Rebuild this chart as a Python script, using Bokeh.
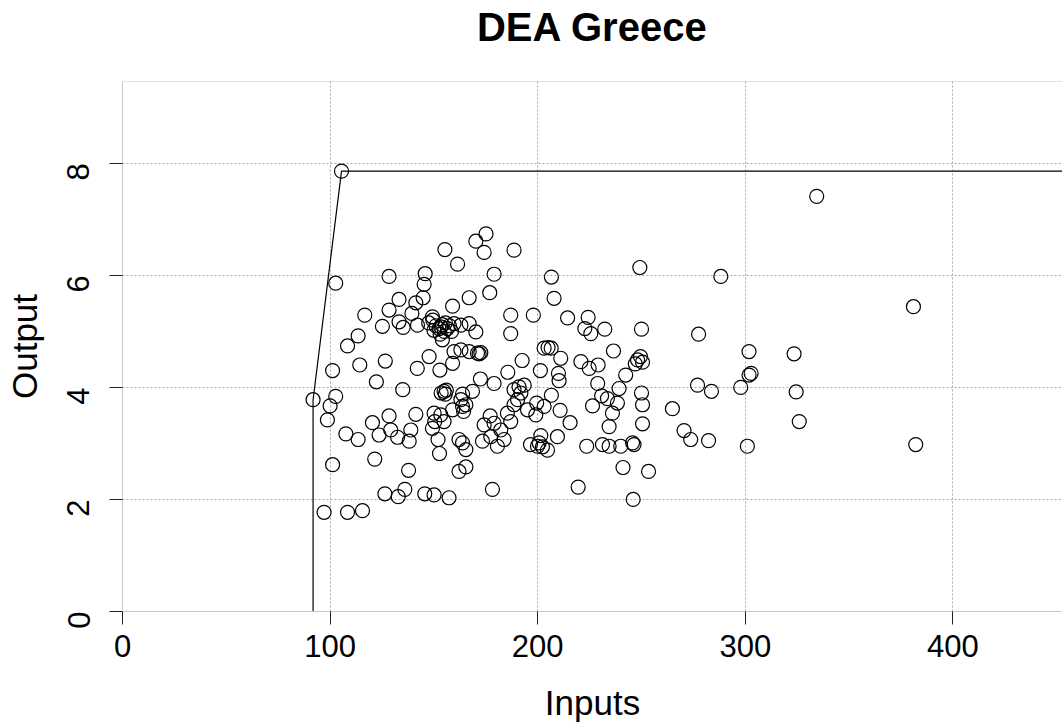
import numpy as np
from bokeh.plotting import figure
from bokeh.models import LinearAxis, FixedTicker, Range1d, ColumnDataSource, Span
from bokeh.embed import file_html
from bokeh.resources import INLINE

# ---- data ----
inputs = [
    105.5, 334.4, 175.1, 170.2, 155.3, 174.2, 188.6, 161.4, 249.2, 179.0,
    145.8, 128.4, 206.6, 288.2, 102.7, 145.3, 176.9, 144.8, 167.0, 207.9,
    133.2, 141.3, 159.0, 381.0, 128.4, 139.4, 116.7, 187.0, 197.9, 149.3,
    214.4, 224.3, 133.2, 142.1, 125.2, 135.2,
    147.5, 149.5, 151.0, 152.5, 153.3, 154.0, 155.0, 155.5, 156.5, 157.5, 150.0, 153.0, 158.5,
    159.7, 163.0, 167.0, 170.2, 222.7, 232.3, 225.6, 250.0, 187.0, 277.5, 154.1,
    113.5, 108.4, 147.7, 159.7, 163.0, 167.0, 171.0, 172.6, 171.8,
    203.1, 205.0, 206.5, 236.5, 301.8, 323.5, 211.1, 192.5, 220.8, 229.1, 224.8,
    248.1, 249.5, 250.5, 247.0, 126.6, 114.3, 159.0, 142.0, 152.9, 101.2,
    201.3, 210.0, 185.6, 242.4, 301.8, 302.8, 172.4, 210.3, 122.3, 179.0,
    228.9, 277.0, 193.5, 191.0, 297.8, 239.2, 135.0, 188.6,
    154.9, 153.5, 156.0, 155.5, 163.8, 168.6, 191.9, 250.0, 283.7, 324.5,
    206.6, 230.8, 233.6, 102.7, 91.8, 163.0, 190.3, 100.0, 165.4, 163.8,
    188.6, 199.5, 238.4, 250.5, 203.1, 226.4, 264.9, 159.0, 195.1, 210.8,
    164.3, 150.1, 185.4, 236.0, 141.3, 153.3, 199.1, 128.4, 177.1, 98.7,
    150.4, 154.9, 187.0, 326.0, 120.4, 179.0, 215.6, 174.2, 250.5, 234.4,
    149.3, 129.2, 138.9, 182.2, 270.5, 107.6, 123.6, 201.5, 177.4, 209.5,
    132.5, 113.5, 152.0, 162.1, 183.8, 273.7, 138.1, 173.4, 282.3, 163.8,
    200.7, 245.7, 196.5, 231.2, 246.4, 382.1, 180.6, 199.9, 202.3, 223.6,
    234.4, 240.0, 301.0, 165.4, 204.7, 152.7, 121.5, 101.2, 165.4, 241.1,
    137.8, 162.1, 253.4, 219.5, 178.2, 136.0, 126.4, 145.6, 150.1, 132.8,
    157.3, 246.0, 115.6, 97.1, 108.4,
]
output = [
    7.86, 7.41, 6.74, 6.61, 6.46, 6.41, 6.45, 6.20, 6.14, 6.02,
    6.03, 5.98, 5.97, 5.98, 5.86, 5.84, 5.69, 5.60, 5.60, 5.59,
    5.57, 5.51, 5.45, 5.44, 5.38, 5.32, 5.29, 5.29, 5.29, 5.26,
    5.24, 5.25, 5.17, 5.11, 5.09, 5.07,
    5.15, 5.20, 5.10, 5.05, 5.08, 5.12, 5.00, 5.15, 5.05, 5.10, 5.02, 4.95, 5.00,
    5.14, 5.11, 5.14, 4.99, 5.05, 5.04, 4.96, 5.04, 4.96, 4.95, 4.85,
    4.92, 4.74, 4.55, 4.64, 4.67, 4.64, 4.61, 4.62, 4.60,
    4.70, 4.71, 4.70, 4.65, 4.64, 4.60, 4.52, 4.48, 4.46, 4.40, 4.34,
    4.49, 4.55, 4.45, 4.42, 4.47, 4.40, 4.43, 4.34, 4.31, 4.30,
    4.30, 4.25, 4.27, 4.22, 4.22, 4.25, 4.15, 4.12, 4.10, 4.07,
    4.07, 4.04, 4.04, 4.01, 4.00, 3.98, 3.96, 3.96,
    3.93, 3.90, 3.95, 3.88, 3.88, 3.93, 3.90, 3.90, 3.93, 3.92,
    3.86, 3.85, 3.80, 3.84, 3.78, 3.78, 3.78, 3.67, 3.69, 3.66,
    3.69, 3.72, 3.72, 3.69, 3.66, 3.67, 3.62, 3.60, 3.60, 3.59,
    3.57, 3.54, 3.54, 3.54, 3.52, 3.51, 3.51, 3.49, 3.49, 3.42,
    3.39, 3.39, 3.39, 3.39, 3.37, 3.36, 3.37, 3.33, 3.35, 3.30,
    3.27, 3.24, 3.24, 3.24, 3.23, 3.17, 3.15, 3.14, 3.12, 3.12,
    3.11, 3.07, 3.07, 3.07, 3.07, 3.07, 3.04, 3.04, 3.05, 3.01,
    3.01, 3.01, 2.98, 2.98, 2.98, 2.98, 2.95, 2.95, 2.94, 2.95,
    2.95, 2.95, 2.95, 2.89, 2.88, 2.82, 2.72, 2.62, 2.58, 2.57,
    2.52, 2.50, 2.50, 2.22, 2.18, 2.18, 2.10, 2.10, 2.08, 2.05,
    2.03, 2.00, 1.80, 1.77, 1.77,
]

# DEA frontier (the horizontal part runs off the right of the plot)
frontier_x = [91.8, 91.8, 105.5, 470.0]
frontier_y = [0.0, 3.78, 7.86, 7.86]

x_ticks = [0, 100, 200, 300, 400]
y_ticks = [0, 2, 4, 6, 8]
x_max = 452.8
y_max = 9.46
title_text = "DEA Greece"

FONT = "Liberation Sans"
BOX = "#c8c8c8"

p = figure(width=1062, height=724, output_backend="svg", toolbar_location=None,
           x_range=Range1d(0, x_max), y_range=Range1d(0, y_max),
           min_border_left=122, min_border_right=0, min_border_top=81,
           min_border_bottom=112, x_axis_label="Inputs", y_axis_label="Output")
p.outline_line_color = None
p.background_fill_color = "white"

for ax in (p.xaxis[0], p.yaxis[0]):
    ax.axis_line_color = BOX
    ax.major_tick_line_color = "#222222"
    ax.major_tick_out = 13
    ax.major_tick_in = 0
    ax.minor_tick_line_color = None
    ax.major_label_text_font = FONT
    ax.major_label_text_font_size = "31px"
    ax.major_label_text_color = "black"
    ax.axis_label_text_font = FONT
    ax.axis_label_text_font_size = "35px"
    ax.axis_label_text_font_style = "normal"
    ax.axis_label_text_color = "black"

p.xaxis.ticker = FixedTicker(ticks=x_ticks)
p.yaxis.ticker = FixedTicker(ticks=y_ticks)
p.yaxis.major_label_orientation = np.pi / 2
p.xaxis.major_label_standoff = 10
p.xaxis.axis_label_standoff = 23
p.yaxis.major_label_standoff = 31
p.yaxis.axis_label_standoff = 10

# the chart title, carried by an otherwise empty axis above the plot box
top = LinearAxis(ticker=FixedTicker(ticks=[]), axis_line_color=None,
                 bounds=(6.3, x_max),
                 major_tick_line_color=None, minor_tick_line_color=None,
                 major_tick_out=0, major_tick_in=0, major_label_standoff=0,
                 major_label_text_font_size="1px",
                 axis_label=title_text, axis_label_text_font=FONT,
                 axis_label_text_font_size="40px", axis_label_text_font_style="bold",
                 axis_label_text_color="black", axis_label_standoff=33)
p.add_layout(top, "above")

# top edge of the plot box
p.add_layout(Span(location=y_max, dimension="width", line_color=BOX, line_width=1))

for g in (p.xgrid[0], p.ygrid[0]):
    g.grid_line_color = "#a8a8a8"
    g.grid_line_dash = "2 2"
    g.grid_line_width = 1
p.xgrid.ticker = FixedTicker(ticks=x_ticks)
p.ygrid.ticker = FixedTicker(ticks=y_ticks)

p.line(frontier_x, frontier_y, line_color="black", line_width=1.2)
src = ColumnDataSource(dict(x=inputs, y=output))
p.scatter("x", "y", source=src, marker="circle", size=14, fill_color=None,
          line_color="black", line_width=1.2)

open("out.html", "w").write(file_html(p, INLINE))
